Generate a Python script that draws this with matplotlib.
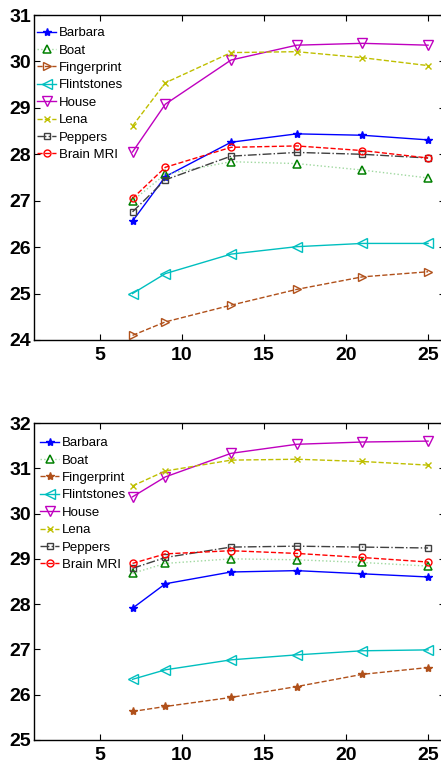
import matplotlib
matplotlib.use("Agg")
import matplotlib.pyplot as plt

plt.rcParams['font.family'] = ['Liberation Sans', 'DejaVu Sans']

x = [7, 9, 13, 17, 21, 25]
names = ["Barbara", "Boat", "Fingerprint", "Flintstones", "House", "Lena", "Peppers", "Brain MRI"]

top_barbara = [26.56, 27.52, 28.26, 28.44, 28.41, 28.31]
top_boat = [27.00, 27.57, 27.84, 27.80, 27.66, 27.49]
top_fingerprint = [24.10, 24.39, 24.75, 25.09, 25.36, 25.47]
top_flintstones = [25.00, 25.43, 25.85, 26.01, 26.08, 26.08]
top_house = [28.05, 29.08, 30.03, 30.35, 30.39, 30.35]
top_lena = [28.61, 29.54, 30.19, 30.21, 30.08, 29.91]
top_peppers = [26.76, 27.45, 27.96, 28.04, 28.00, 27.92]
top_brain = [27.05, 27.72, 28.15, 28.18, 28.08, 27.92]

bot_barbara = [27.91, 28.45, 28.71, 28.74, 28.67, 28.60]
bot_boat = [28.68, 28.90, 29.00, 28.98, 28.92, 28.84]
bot_fingerprint = [25.63, 25.74, 25.94, 26.18, 26.45, 26.60]
bot_flintstones = [26.34, 26.55, 26.77, 26.88, 26.97, 26.99]
bot_house = [30.37, 30.81, 31.33, 31.53, 31.58, 31.60]
bot_lena = [30.61, 30.94, 31.18, 31.20, 31.15, 31.07]
bot_peppers = [28.79, 29.03, 29.26, 29.28, 29.26, 29.24]
bot_brain = [28.90, 29.11, 29.18, 29.12, 29.03, 28.93]

x_ticks = [5, 10, 15, 20, 25]
top_yticks = [24, 25, 26, 27, 28, 29, 30, 31]
bot_yticks = [25, 26, 27, 28, 29, 30, 31, 32]

fig = plt.figure(figsize=(4.41, 7.61), dpi=100)
W, H = 441, 761

def make_axes(top_px, bottom_px):
    left = 34
    right = 444.5
    return fig.add_axes([left / W, 1 - bottom_px / H, (right - left) / W, (bottom_px - top_px) / H])

def style(name, fp_marker):
    s = {
        "Barbara": dict(color='#0000ff', ls='-', marker='*', mfc='#0000ff', mec='#0000ff', ms=6),
        "Boat": dict(color='#9fd89f', ls=':', marker='^', mfc='none', mec='#008000', ms=6, mew=1.1),
        "Fingerprint": dict(color='#b0501a', ls='--', marker=fp_marker,
                            mfc=('none' if fp_marker == '>' else '#b0501a'), mec='#b0501a', ms=6),
        "Flintstones": dict(color='#00bfbf', ls='-', marker='<', mfc='none', mec='#00bfbf', ms=7),
        "House": dict(color='#bf00bf', ls='-', marker='v', mfc='none', mec='#bf00bf', ms=7),
        "Lena": dict(color='#bfbf00', ls='--', marker='x', mfc='none', mec='#bfbf00', ms=4),
        "Peppers": dict(color='#404040', ls='-.', marker='s', mfc='none', mec='#404040', ms=4),
        "Brain MRI": dict(color='#ff0000', ls='--', marker='o', mfc='none', mec='#ff0000', ms=5),
    }
    return s[name]

def draw(ax, series, ylim, yticks, fp_marker, ax_h_px, dx_px, dy_px):
    for name, vals in zip(names, series):
        st = style(name, fp_marker)
        ax.plot(x, vals, label=name, lw=1.0, **st)
    ax.set_xlim(1, 26)
    ax.set_ylim(*ylim)
    ax.set_xticks(x_ticks)
    ax.set_yticks(yticks)
    ax.tick_params(direction='in', top=True, right=True, length=4, labelsize=14)
    ax.tick_params(axis='y', pad=2)
    ax.tick_params(axis='x', pad=5)
    for lab in ax.get_xticklabels() + ax.get_yticklabels():
        lab.set_fontweight('bold')
    for sp in ax.spines.values():
        sp.set_linewidth(1.0)
    ax_w_px = 410.5
    ax.legend(loc='upper left', frameon=False, fontsize=9.5, handlelength=1.45,
              handletextpad=0.2, labelspacing=0.39, borderaxespad=0.0,
              borderpad=0.15,
              bbox_to_anchor=(dx_px / ax_w_px, 1 - dy_px / ax_h_px))

ax1 = make_axes(15, 340)
draw(ax1, [top_barbara, top_boat, top_fingerprint, top_flintstones, top_house, top_lena,
           top_peppers, top_brain], (24, 31), top_yticks, '>', 325, 1, 10)

ax2 = make_axes(423, 740)
draw(ax2, [bot_barbara, bot_boat, bot_fingerprint, bot_flintstones, bot_house, bot_lena,
           bot_peppers, bot_brain], (25, 32), bot_yticks, '*', 317, 4, 12)

fig.savefig("out.png", dpi=100)
